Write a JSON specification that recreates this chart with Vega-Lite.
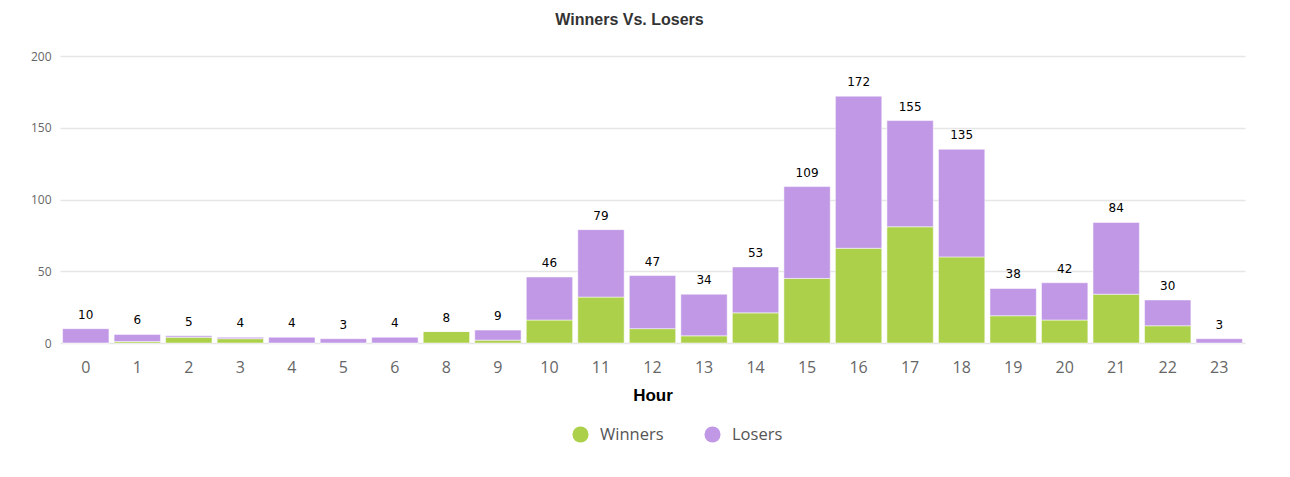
{
  "$schema": "https://vega.github.io/schema/vega-lite/v6.json",
  "autosize": {"type": "none"},
  "width": 1185,
  "height": 287,
  "padding": {"left": 60, "top": 56, "right": 45, "bottom": 134},
  "background": "#ffffff",
  "title": {"text": "Winners Vs. Losers", "fontSize": 16, "font": "Liberation Sans", "fontWeight": "bold", "color": "#333333", "offset": 22, "anchor": "middle", "dx": -23},
  "config": {
    "view": {"stroke": null},
    "font": "Open Sans"
  },
  "datasets": {
    "counts": [
      {"hour": "0", "type": "Winners", "count": 0}, {"hour": "0", "type": "Losers", "count": 10},
      {"hour": "1", "type": "Winners", "count": 1}, {"hour": "1", "type": "Losers", "count": 5},
      {"hour": "2", "type": "Winners", "count": 4}, {"hour": "2", "type": "Losers", "count": 1},
      {"hour": "3", "type": "Winners", "count": 3}, {"hour": "3", "type": "Losers", "count": 1},
      {"hour": "4", "type": "Winners", "count": 0}, {"hour": "4", "type": "Losers", "count": 4},
      {"hour": "5", "type": "Winners", "count": 0}, {"hour": "5", "type": "Losers", "count": 3},
      {"hour": "6", "type": "Winners", "count": 0}, {"hour": "6", "type": "Losers", "count": 4},
      {"hour": "8", "type": "Winners", "count": 8}, {"hour": "8", "type": "Losers", "count": 0},
      {"hour": "9", "type": "Winners", "count": 2}, {"hour": "9", "type": "Losers", "count": 7},
      {"hour": "10", "type": "Winners", "count": 16}, {"hour": "10", "type": "Losers", "count": 30},
      {"hour": "11", "type": "Winners", "count": 32}, {"hour": "11", "type": "Losers", "count": 47},
      {"hour": "12", "type": "Winners", "count": 10}, {"hour": "12", "type": "Losers", "count": 37},
      {"hour": "13", "type": "Winners", "count": 5}, {"hour": "13", "type": "Losers", "count": 29},
      {"hour": "14", "type": "Winners", "count": 21}, {"hour": "14", "type": "Losers", "count": 32},
      {"hour": "15", "type": "Winners", "count": 45}, {"hour": "15", "type": "Losers", "count": 64},
      {"hour": "16", "type": "Winners", "count": 66}, {"hour": "16", "type": "Losers", "count": 106},
      {"hour": "17", "type": "Winners", "count": 81}, {"hour": "17", "type": "Losers", "count": 74},
      {"hour": "18", "type": "Winners", "count": 60}, {"hour": "18", "type": "Losers", "count": 75},
      {"hour": "19", "type": "Winners", "count": 19}, {"hour": "19", "type": "Losers", "count": 19},
      {"hour": "20", "type": "Winners", "count": 16}, {"hour": "20", "type": "Losers", "count": 26},
      {"hour": "21", "type": "Winners", "count": 34}, {"hour": "21", "type": "Losers", "count": 50},
      {"hour": "22", "type": "Winners", "count": 12}, {"hour": "22", "type": "Losers", "count": 18},
      {"hour": "23", "type": "Winners", "count": 0}, {"hour": "23", "type": "Losers", "count": 3}
    ]
  },
  "data": {"name": "counts"},
  "encoding": {
    "x": {
      "field": "hour", "type": "ordinal",
      "sort": ["0","1","2","3","4","5","6","8","9","10","11","12","13","14","15","16","17","18","19","20","21","22","23"],
      "scale": {"paddingInner": 0.1, "paddingOuter": 0.05},
      "axis": {"title": "Hour", "titleFontSize": 17, "titleFont": "Liberation Sans", "titleFontWeight": "bold", "titleColor": "#000000", "titlePadding": 12,
               "labelAngle": 0, "labelFontSize": 16, "labelColor": "#666666", "labelPadding": 16, "ticks": false, "domain": false}
    }
  },
  "layer": [
    {
      "mark": {"type": "bar", "stroke": "#ffffff", "strokeWidth": 1, "strokeOpacity": 0.5},
      "encoding": {
        "y": {
          "field": "count", "type": "quantitative", "stack": "zero",
          "scale": {"domain": [0, 200], "nice": false},
          "axis": {"title": null, "values": [0, 50, 100, 150, 200], "gridColor": "#e6e6e6", "gridWidth": 1.5, "labelFontSize": 12, "labelColor": "#666666", "labelPadding": 9, "ticks": false, "domain": false}
        },
        "color": {
          "field": "type", "type": "nominal",
          "sort": ["Winners", "Losers"],
          "scale": {"domain": ["Winners", "Losers"], "range": ["#acd04a", "#c198e6"]},
          "legend": {"title": null, "orient": "none", "legendX": 512, "legendY": 370, "direction": "horizontal", "symbolType": "circle", "symbolSize": 260, "symbolStrokeWidth": 0, "labelFontSize": 16.5, "labelColor": "#555555", "columnPadding": 40, "labelOffset": 11}
        }
      }
    },
    {
      "transform": [{"aggregate": [{"op": "sum", "field": "count", "as": "total"}], "groupby": ["hour"]}],
      "mark": {"type": "text", "dy": -14, "fontSize": 12, "color": "#000000", "font": "DejaVu Sans"},
      "encoding": {
        "y": {
          "field": "total", "type": "quantitative",
          "axis": {"title": null, "values": [10, 20, 30, 40, 60, 70, 80, 90, 110, 120, 130, 140, 160, 170, 180, 190], "gridColor": "#f3f3f3", "labels": false, "ticks": false, "domain": false}
        },
        "text": {"field": "total", "type": "quantitative"}
      }
    }
  ],
  "resolve": {"axis": {"y": "independent"}}
}
